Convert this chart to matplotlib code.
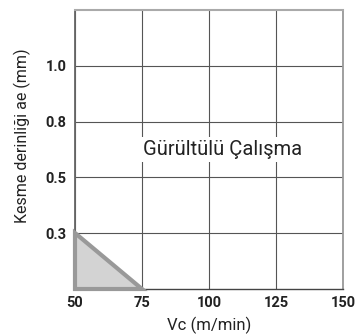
import numpy as np
import matplotlib
matplotlib.use("Agg")
import matplotlib.pyplot as plt

# cutting speed (m/min) and cutting depth levels (mm)
vc_ticks = [50, 75, 100, 125, 150]
ae_ticks = [0.3, 0.5, 0.8, 1.0]
ae_levels = [0.0, 0.3, 0.5, 0.8, 1.0, 1.2]   # equally spaced rows on the chart

# quiet working zone
zone_vc = [50, 50, 75]
zone_ae = [0.3, 0.0, 0.0]

zone_label = "Gürültülü Çalışma"
label_vc, label_ae = 105, 0.65

rows = np.arange(len(ae_levels))


def fwd(y):
    return np.interp(y, ae_levels, rows)


def inv(y):
    return np.interp(y, rows, ae_levels)


plt.rcParams['font.family'] = ['Roboto', 'DejaVu Sans']

fig = plt.figure(figsize=(3.58, 3.36), dpi=100)
ax = fig.add_axes([0.2095, 0.14, 0.7486, 0.83])
ax.set_yscale('function', functions=(fwd, inv))
ax.set_xlim(50, 150)
ax.set_ylim(0.0, 1.2)

ax.set_xticks(vc_ticks)
ax.set_yticks(ae_ticks)
ax.set_yticklabels(["%.1f" % v for v in ae_ticks])
ax.yaxis.set_minor_locator(matplotlib.ticker.NullLocator())
ax.tick_params(axis='both', length=0, labelsize=10.5, colors='#222222', pad=6)
for lab in ax.get_xticklabels() + ax.get_yticklabels():
    lab.set_fontweight('semibold')
ax.tick_params(axis='x', pad=5)

ax.grid(True, color='#555555', linewidth=0.8)
ax.set_axisbelow(True)

ax.spines['top'].set_color('#aaaaaa')
ax.spines['top'].set_linewidth(1.5)
ax.spines['right'].set_color('#999999')
ax.spines['right'].set_linewidth(1.3)
ax.spines['left'].set_color('#666666')
ax.spines['left'].set_linewidth(1.3)
ax.spines['bottom'].set_color('#444444')
ax.spines['bottom'].set_linewidth(1.0)

ax.fill(zone_vc, zone_ae, facecolor='#d3d3d3', edgecolor='#999999',
        linewidth=3, joinstyle='miter', zorder=3, clip_on=False)

ax.text(label_vc, label_ae, zone_label, ha='center', va='center',
        fontsize=14.5, color='#222222', zorder=4,
        bbox=dict(facecolor='white', edgecolor='none', pad=2))

ax.set_xlabel("Vc (m/min)", fontsize=12, color='#222222')
ax.xaxis.set_label_coords(0.5, -0.1)
ax.set_ylabel("Kesme derinliği ae (mm)", fontsize=11.5, color='#222222')
ax.yaxis.set_label_coords(-0.165, 0.55)

fig.savefig('out.png', dpi=100)
